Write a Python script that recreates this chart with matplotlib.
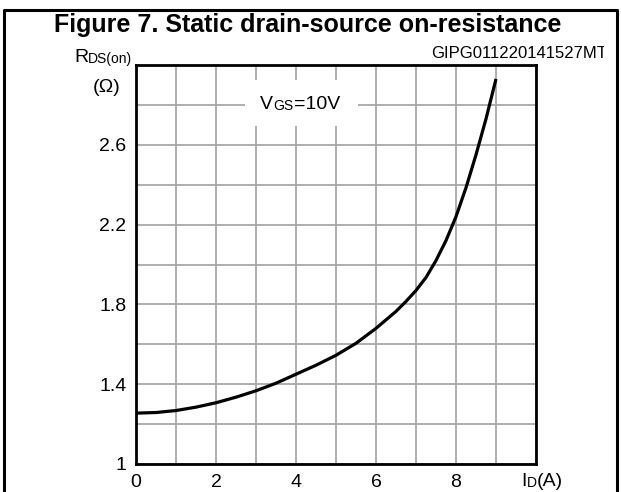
import matplotlib
matplotlib.use("Agg")
import matplotlib.pyplot as plt
from matplotlib.patches import Rectangle
from matplotlib.lines import Line2D
from matplotlib.transforms import Bbox

plt.rcParams.update({
    "font.family": ["Liberation Sans", "DejaVu Sans"],
    "font.size": 14,
})

# Drain current (A) and on-resistance (ohm)
id_amps = [0, 0.5, 1, 1.5, 2, 2.5, 3, 3.5, 4, 4.5, 5, 5.5, 6, 6.5, 6.75, 7,
           7.25, 7.5, 7.75, 8, 8.25, 8.5, 8.75, 9]
rds_on = [1.255, 1.258, 1.268, 1.285, 1.307, 1.335, 1.367, 1.405, 1.450, 1.495,
          1.545, 1.605, 1.680, 1.765, 1.815, 1.870, 1.935, 2.020, 2.120, 2.240,
          2.385, 2.550, 2.730, 2.930]

x_ticks = [0, 2, 4, 6, 8]
y_ticks = [1, 1.4, 1.8, 2.2, 2.6]
y_ticklabels = ["1", "1.4", "1.8", "2.2", "2.6"]
title = "Figure 7. Static drain-source on-resistance"
code = "GIPG011220141527MT"

W, H = 621, 492
fig = plt.figure(figsize=(W / 100, H / 100), dpi=100)

def fx(px):
    return px / W

def fy(py):
    return 1 - py / H

# outer frame (left, top, right; open at the bottom edge)
fig.lines.append(Line2D([fx(4), fx(4), fx(617), fx(617)], [fy(H + 2), fy(10), fy(10), fy(H + 2)],
                        transform=fig.transFigure, color="black", lw=2.2))

ax = fig.add_axes([fx(136), fy(464), fx(400), 399 / H])
ax.plot(id_amps, rds_on, color="black", lw=2.3, solid_capstyle="butt",
        solid_joinstyle="round", zorder=5)

ax.set_xlim(0, 10)
ax.set_ylim(1, 3)
ax.set_xticks(range(0, 11), minor=True)
ax.set_yticks([1 + 0.2 * i for i in range(11)], minor=True)
ax.set_xticks(x_ticks)
ax.set_xticklabels([str(v) for v in x_ticks])
ax.set_yticks(y_ticks)
ax.set_yticklabels(y_ticklabels)
ax.grid(which="both", color="#a8a8a8", lw=1.3)
ax.tick_params(which="both", length=0)
ax.tick_params(axis="x", pad=7)
ax.tick_params(axis="y", pad=7)
for s in ax.spines.values():
    s.set_linewidth(2.0)
    s.set_zorder(6)

# VGS label on a white patch that hides the grid
ax.add_patch(Rectangle((2.725, 2.694), 2.825, 0.231, facecolor="white",
                       edgecolor="none", zorder=3))
ax.text(3.1, 2.8, "V", ha="left", va="center", fontsize=14, zorder=6)
ax.annotate("GS", (3.1, 2.8), xytext=(9.6, -1), textcoords="offset points",
            ha="left", va="center", fontsize=10, zorder=6)
ax.annotate("=10V", (3.1, 2.8), xytext=(24.5, 0), textcoords="offset points",
            ha="left", va="center", fontsize=14, zorder=6)

# axis labels
fig.text(fx(88), fy(58), "R", ha="right", va="center", fontsize=14)
fig.text(fx(88), fy(59), "DS(on)", ha="left", va="center", fontsize=10)
fig.text(fx(107), fy(88), "(\u03a9)", ha="center", va="center", fontsize=14)
fig.text(fx(521), fy(482), "I", ha="left", va="center", fontsize=14)
fig.text(fx(526.5), fy(483), "D", ha="left", va="center", fontsize=10)
fig.text(fx(537), fy(482), "(A)", ha="left", va="center", fontsize=14)

# title and figure code
fig.text(fx(308), fy(32), title, ha="center", va="baseline", fontsize=18, fontweight="bold")
t = fig.text(fx(607), fy(53), code, ha="right", va="center", fontsize=12)
t.set_clip_box(Bbox.from_extents(0, 0, 604, H))
t.set_clip_on(True)

fig.savefig("out.png", dpi=100)
